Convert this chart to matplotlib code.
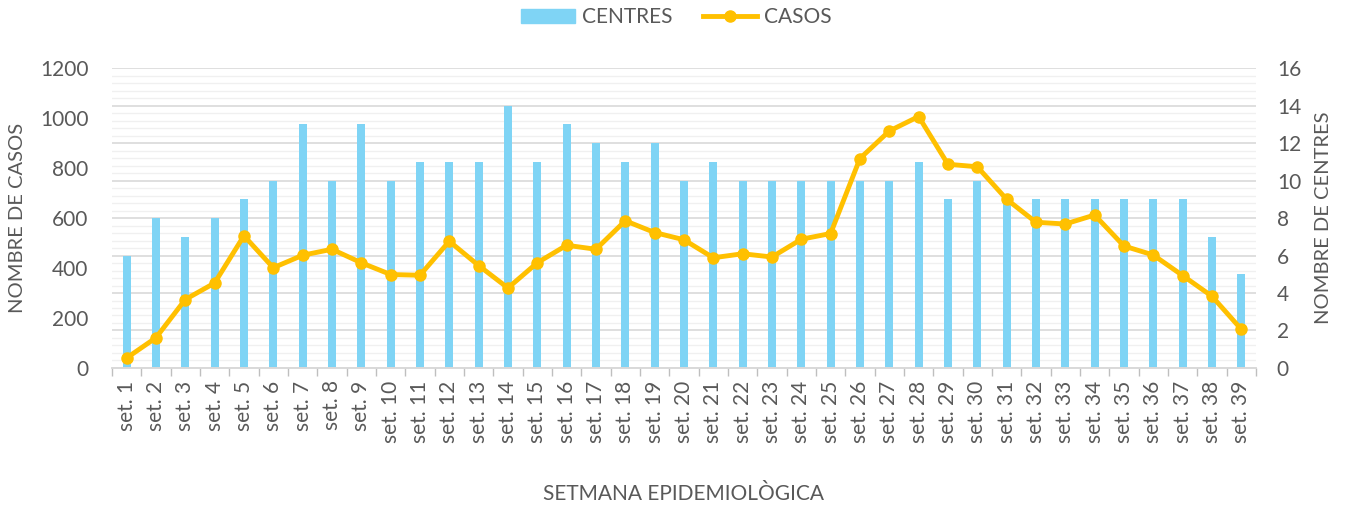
import matplotlib
matplotlib.use("Agg")
import matplotlib.pyplot as plt
from matplotlib.ticker import MultipleLocator
from matplotlib.lines import Line2D
from matplotlib.patches import Patch

plt.rcParams['font.family'] = ['Lato', 'DejaVu Sans']

weeks = [f"set. {i}" for i in range(1, 40)]
centres = [6, 8, 7, 8, 9, 10, 13, 10, 13, 10, 11, 11, 11, 14, 11, 13, 12, 11, 12, 10,
           11, 10, 10, 10, 10, 10, 10, 11, 9, 10, 9, 9, 9, 9, 9, 9, 9, 7, 5]
casos = [40, 121, 274, 340, 529, 401, 451, 475, 421, 374, 371, 507, 410, 320, 421,
         491, 475, 589, 542, 513, 441, 457, 444, 515, 538, 838, 948, 1006, 815, 805,
         675, 583, 576, 612, 488, 452, 370, 287, 155]

text_col = '#595959'
bar_col = '#7FD4F5'
line_col = '#FFC000'
fs = 15

fig = plt.figure(figsize=(13.47, 5.08), dpi=100)
ax = fig.add_axes([0.0831, 0.2756, 0.8493, 0.5905])
ax2 = ax.twinx()
ax.set_zorder(ax2.get_zorder() + 1)
ax.patch.set_visible(False)

x = list(range(len(weeks)))
ax2.bar(x, centres, width=0.27, color=bar_col, zorder=2)
ax2.set_ylim(0, 16)
ax2.yaxis.set_major_locator(MultipleLocator(2))
ax2.yaxis.set_minor_locator(MultipleLocator(0.4))
ax2.grid(which='major', axis='y', color='#D9D9D9', lw=1.2, zorder=0)
ax2.grid(which='minor', axis='y', color='#F0F0F0', lw=1.0, zorder=0)
ax2.set_axisbelow(True)

ax.plot(x, casos, color=line_col, lw=3.5, marker='o', ms=8, zorder=3)
ax.set_ylim(0, 1200)
ax.yaxis.set_major_locator(MultipleLocator(200))
ax.set_xlim(-0.5, len(weeks) - 0.5)

ax.set_xticks(x)
ax.set_xticklabels(weeks, rotation=90, fontsize=fs, color=text_col)
ax.set_xticks([i - 0.5 for i in range(len(weeks) + 1)], minor=True)
ax.tick_params(axis='x', which='major', length=0, pad=9)
ax.tick_params(axis='x', which='minor', length=6, color='#BFBFBF', width=1)

ax.tick_params(axis='y', length=0, labelsize=fs, labelcolor=text_col, pad=17)
ax2.tick_params(axis='y', which='both', length=0, labelsize=fs, labelcolor=text_col, pad=15)

for a in (ax, ax2):
    for s in ('top', 'left', 'right'):
        a.spines[s].set_visible(False)
    a.spines['bottom'].set_color('#D9D9D9')
    a.spines['bottom'].set_linewidth(1.2)

ax.set_ylabel('NOMBRE DE CASOS', fontsize=14.5, color=text_col, labelpad=10)
ax2.set_ylabel('NOMBRE DE CENTRES', fontsize=14.5, color=text_col, labelpad=10)
ax.set_xlabel('SETMANA EPIDEMIOLÒGICA', fontsize=fs, color=text_col, labelpad=30)

handles = [Patch(color=bar_col, label='CENTRES'),
           Line2D([0], [0], color=line_col, lw=3.5, marker='o', ms=8, label='CASOS')]
fig.legend(handles=handles, loc='center', bbox_to_anchor=(0.502, 0.966), ncol=2,
           frameon=False, fontsize=fs, labelcolor=text_col, handlelength=2.6,
           columnspacing=1.5, handletextpad=0.3)

fig.savefig('out.png', dpi=100)
